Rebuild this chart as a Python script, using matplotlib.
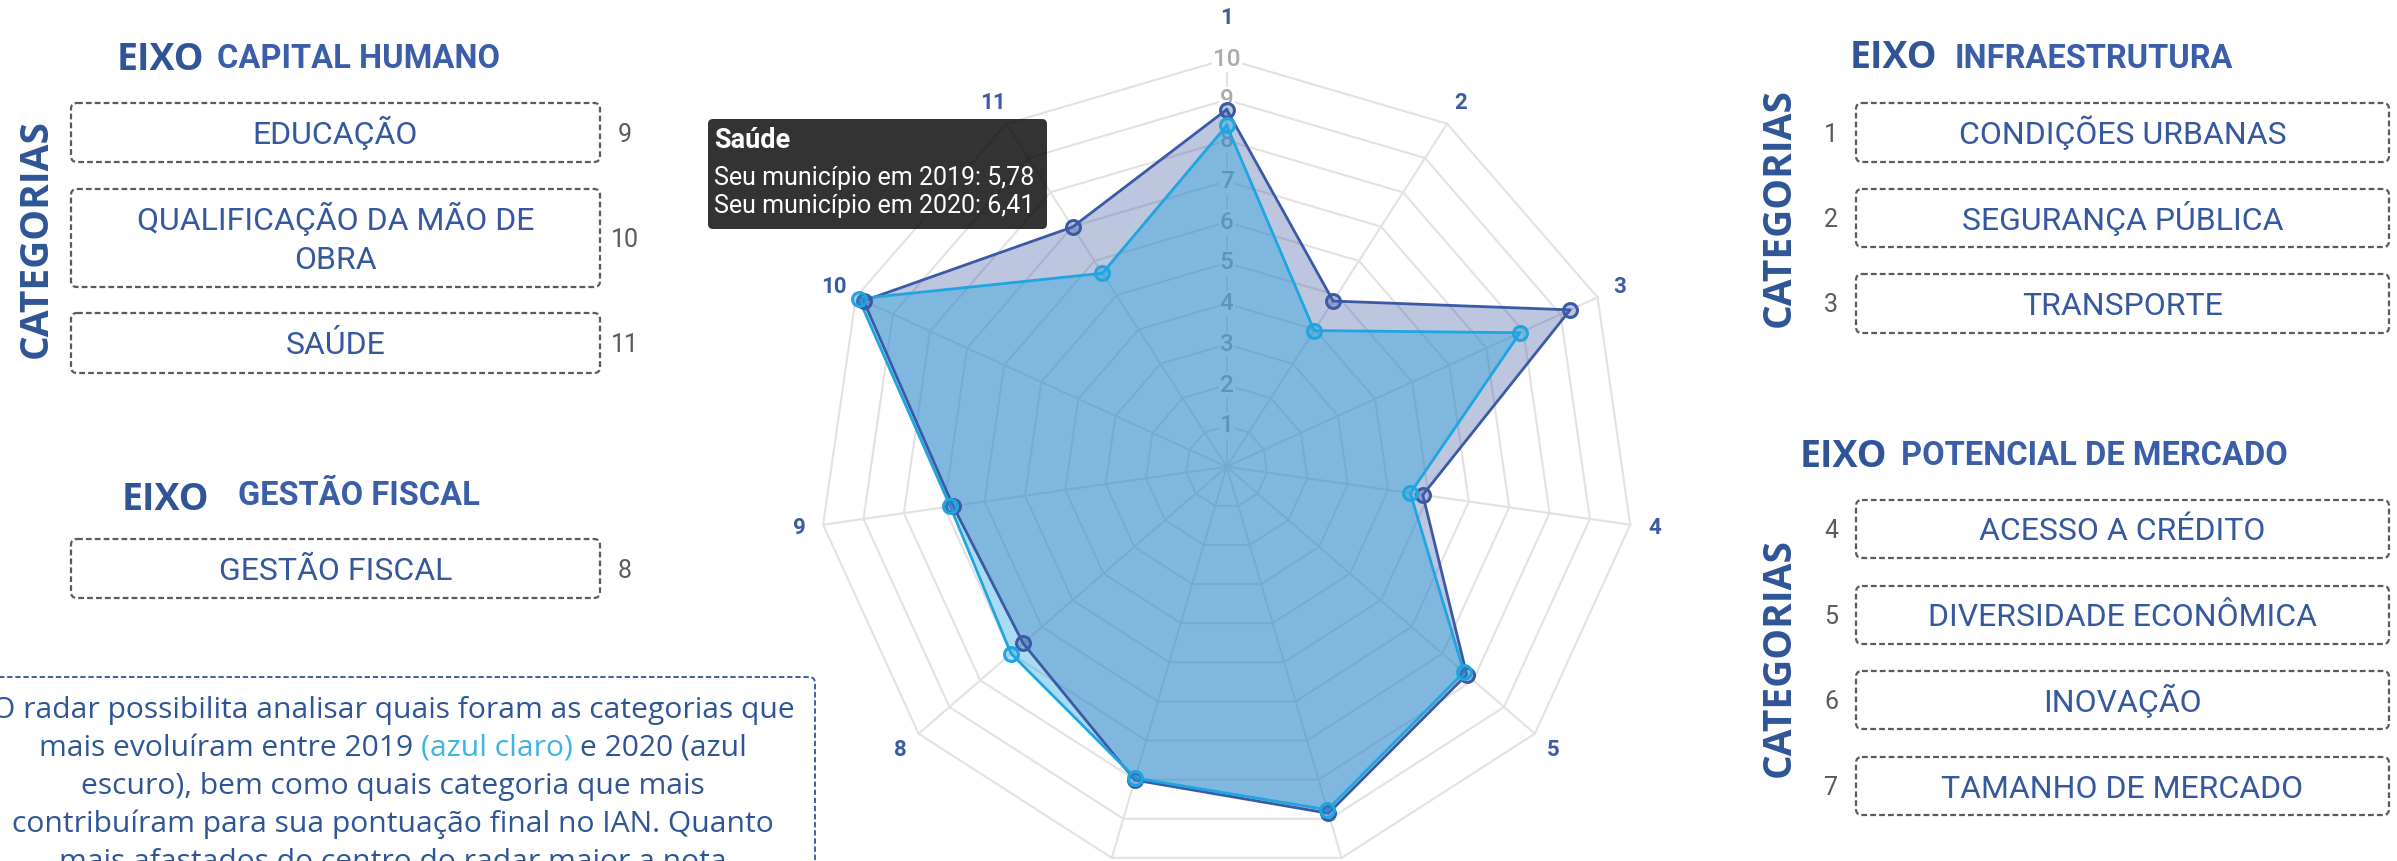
import numpy as np
import matplotlib
matplotlib.use('Agg')
import matplotlib.pyplot as plt
from matplotlib.patches import FancyBboxPatch

# ---- dados do radar (nota por categoria, eixos 1..11) ----
eixos_radar = ['1', '2', '3', '4', '5', '6', '7', '8', '9', '10', '11']
nota_2019 = [8.37, 3.97, 7.91, 4.55, 7.70, 8.77, 7.96, 7.00, 6.85, 9.92, 5.64]
nota_2020 = [8.76, 4.83, 9.26, 4.86, 7.79, 8.86, 8.01, 6.61, 6.78, 9.79, 6.99]
aneis = [1, 2, 3, 4, 5, 6, 7, 8, 9, 10]

# ---- categorias por eixo ----
capital_cat = ['EDUCAÇÃO', 'QUALIFICAÇÃO DA MÃO DE\nOBRA', 'SAÚDE']
capital_num = ['9', '10', '11']
fiscal_cat = ['GESTÃO FISCAL']
fiscal_num = ['8']
infra_cat = ['CONDIÇÕES URBANAS', 'SEGURANÇA PÚBLICA', 'TRANSPORTE']
infra_num = ['1', '2', '3']
mercado_cat = ['ACESSO A CRÉDITO', 'DIVERSIDADE ECONÔMICA', 'INOVAÇÃO', 'TAMANHO DE MERCADO']
mercado_num = ['4', '5', '6', '7']

tooltip_titulo = 'Saúde'
tooltip_linhas = ['Seu município em 2019: 5,78', 'Seu município em 2020: 6,41']

desc_linhas = [
    'O radar possibilita analisar quais foram as categorias que',
    ['mais evoluíram entre 2019', '(azul claro)', 'e 2020 (azul'],
    'escuro), bem como quais categoria que mais',
    'contribuíram para sua pontuação final no IAN. Quanto',
    'mais afastados do centro do radar maior a nota',
]

AZUL = '#2f5597'
AZUL_TXT = '#35589f'
AZUL_CLARO = '#3cb4e5'
CINZA = '#5a5a5a'

W, H = 2397, 861
fig = plt.figure(figsize=(W / 100, H / 100), dpi=100)

# ---- radar (eixo polar) ----
cx, cy = 1226.7, 466.7   # centro em pixels (a partir do topo)
R10 = 407.7              # raio do anel 10
rmax = 11.6
half = R10 * rmax / 10
ax = fig.add_axes([(cx - half) / W, (H - cy - half) / H, 2 * half / W, 2 * half / H],
                  projection='polar')
ax.set_theta_zero_location('N')
ax.set_theta_direction(-1)
ax.set_ylim(0, rmax)
ax.axis('off')

n = len(eixos_radar)
theta = np.linspace(0, 2 * np.pi, n, endpoint=False)
th_c = np.append(theta, theta[0])

# grade poligonal
for r in aneis:
    ax.plot(th_c, [r] * (n + 1), color='#e2e2e2', lw=1.5, zorder=1)
for t in theta:
    ax.plot([t, t], [0, max(aneis)], color='#e2e2e2', lw=1.5, zorder=1)

# valores dos anéis
for r in aneis:
    ax.text(0, r, str(r), ha='center', va='center', fontsize=17.5, color='#ababab',
            family='Roboto', fontweight='medium', zorder=1.5,
            bbox=dict(boxstyle='square,pad=0.05', fc='white', ec='none'))

v19 = np.append(nota_2019, nota_2019[0])
v20 = np.append(nota_2020, nota_2020[0])

ax.fill(th_c, v20, color=(0.20, 0.31, 0.62, 0.32), lw=0, zorder=2)
ax.fill(th_c, v19, color=(0.12, 0.63, 0.88, 0.38), lw=0, zorder=2.1)
ax.plot(th_c, v20, color='#3b5aa6', lw=2, zorder=3)
ax.plot(th_c, v19, color='#1fa5e0', lw=2, zorder=3.1)
ax.plot(theta, nota_2020, 'o', ms=10, mfc=(0.23, 0.35, 0.65, 0.35), mec='#3b5aa6',
        mew=2.2, zorder=4)
ax.plot(theta, nota_2019, 'o', ms=10, mfc=(0.12, 0.65, 0.88, 0.35), mec='#1fa5e0',
        mew=2.2, zorder=4.1)

for i, lab in enumerate(eixos_radar):
    r_lab = 11.0 if i == 0 else 10.6
    ax.text(theta[i], r_lab, lab, ha='center', va='center', fontsize=16,
            fontweight='bold', color='#3d5aa5', family='Roboto')

# ---- camada de anotações em pixels ----
ov = fig.add_axes([0, 0, 1, 1])
ov.set_xlim(0, W)
ov.set_ylim(H, 0)
ov.axis('off')


def caixa(x0, y0, x1, y1, cor=CINZA, lw=1.6, ls=(0, (2.6, 1.4))):
    ov.add_patch(FancyBboxPatch((x0, y0), x1 - x0, y1 - y0,
                                boxstyle='round,pad=0,rounding_size=6',
                                fc='none', ec=cor, lw=lw, ls=ls))


def painel(cats, nums, caixas, x0, x1, xnum):
    for cat, num, (y0, y1) in zip(cats, nums, caixas):
        caixa(x0, y0, x1, y1)
        yc = (y0 + y1) / 2
        linhas = cat.split('\n')
        for k, ln in enumerate(linhas):
            yb = yc + 11.5 + (k - (len(linhas) - 1) / 2) * 39
            ov.text((x0 + x1) / 2, yb, ln, ha='center', va='baseline', fontsize=23,
                    color=AZUL_TXT, family='Roboto')
        ov.text(xnum, yc + 9, num, ha='center', va='baseline', fontsize=18,
                color=CINZA, family='Roboto')


def titulo(x_eixo, yb_eixo, x_nome, yb_nome, nome):
    ov.text(x_eixo, yb_eixo, 'EIXO', ha='left', va='baseline', fontsize=27,
            fontweight='bold', color=AZUL, family='Open Sans')
    ov.text(x_nome, yb_nome, nome, ha='left', va='baseline', fontsize=23.5,
            fontweight='bold', color='#3a5ea8', family='Roboto')


def categorias(x, yc):
    ov.text(x, yc, 'CATEGORIAS', rotation=90, ha='center', va='center', fontsize=28,
            fontweight='bold', color=AZUL, family='Open Sans')


# lado esquerdo
titulo(117, 70, 217, 68, 'CAPITAL HUMANO')
categorias(36, 239)
painel(capital_cat, capital_num, [(103, 162), (189, 287), (313, 373)], 71, 600, 625)

titulo(122, 510, 238, 505, 'GESTÃO FISCAL')
painel(fiscal_cat, fiscal_num, [(539, 598)], 71, 600, 625)

# lado direito
titulo(1850, 68, 1955, 68, 'INFRAESTRUTURA')
categorias(1779, 208)
painel(infra_cat, infra_num, [(103, 162), (189, 247), (274, 333)], 1856, 2389, 1831)

titulo(1800, 467, 1901, 465, 'POTENCIAL DE MERCADO')
categorias(1779, 658)
painel(mercado_cat, mercado_num, [(500, 558), (586, 644), (671, 729), (757, 815)],
       1856, 2389, 1831)

# caixa de descrição
caixa(-20, 677, 815, 920, cor=AZUL, lw=1.3, ls=(0, (3, 1.5)))
fig.canvas.draw()
rend = fig.canvas.get_renderer()


def largura(s, **kw):
    t = ov.text(0, 0, s, **kw)
    w = t.get_window_extent(renderer=rend).width
    t.remove()
    return w


fkw = dict(fontsize=21.6, family='Open Sans')
esp = largura('a a', **fkw) - largura('aa', **fkw)
xc_desc = 393
for k, ln in enumerate(desc_linhas):
    yb = 718 + k * 38
    if isinstance(ln, str):
        ov.text(xc_desc, yb, ln, ha='center', va='baseline', color=AZUL, **fkw)
    else:
        cores = [AZUL, AZUL_CLARO, AZUL]
        ws = [largura(p, **fkw) for p in ln]
        x = xc_desc - (sum(ws) + esp * (len(ln) - 1)) / 2
        for p, w, c in zip(ln, ws, cores):
            ov.text(x, yb, p, ha='left', va='baseline', color=c, **fkw)
            x += w + esp

# tooltip
ov.add_patch(FancyBboxPatch((708, 119), 339, 110, boxstyle='round,pad=0,rounding_size=5',
                            fc=(0, 0, 0, 0.8), ec='none'))
ov.text(714, 148, tooltip_titulo, ha='left', va='baseline', fontsize=19.5,
        fontweight='bold', color='white', family='Roboto')
for k, ln in enumerate(tooltip_linhas):
    ov.text(714, 185 + k * 28, ln, ha='left', va='baseline', fontsize=18,
            color='white', family='Roboto')

fig.savefig('out.png', dpi=100)
